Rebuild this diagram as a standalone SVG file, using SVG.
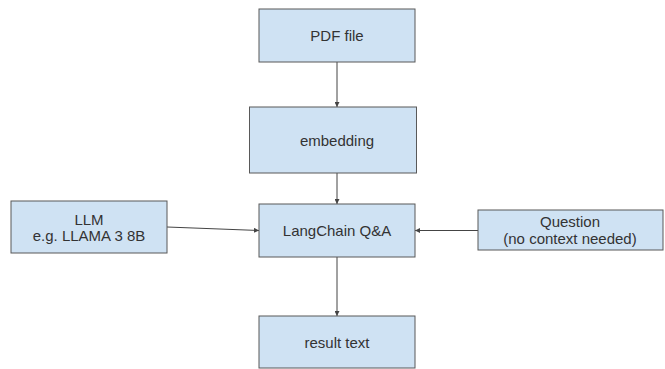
<svg xmlns="http://www.w3.org/2000/svg" width="665" height="369" viewBox="0 0 665 369">
<style>
.box{fill:#cfe2f3;stroke:#595959;stroke-width:1}
.t{font-family:"Liberation Sans",Arial,sans-serif;font-size:15px;fill:#333;text-anchor:middle}
.c{stroke:#444;stroke-width:1;fill:none;marker-end:url(#a)}
</style>
<defs>
<marker id="a" viewBox="0 0 6 6" refX="6" refY="3" markerWidth="5" markerHeight="5" orient="auto" markerUnits="userSpaceOnUse">
<path d="M0,0 L6,3 L0,6 z" fill="#444"/>
</marker>
</defs>
<rect width="665" height="369" fill="#fff"/>
<g id="connectors">
<line class="c" x1="337" y1="62" x2="337" y2="107"/>
<line class="c" x1="337" y1="173" x2="337" y2="204"/>
<line class="c" x1="167" y1="227" x2="259" y2="230.5"/>
<line class="c" x1="478" y1="230.5" x2="415" y2="230.5"/>
<line class="c" x1="337" y1="257" x2="337" y2="316"/>
</g>
<g id="pdf">
<rect class="box" x="259" y="9" width="156" height="53"/>
<text class="t" x="337" y="41">PDF file</text>
</g>
<g id="embedding">
<rect class="box" x="249.5" y="107" width="167" height="66"/>
<text class="t" x="337" y="146">embedding</text>
</g>
<g id="langchain">
<rect class="box" x="259" y="204" width="156" height="53"/>
<text class="t" x="337" y="236">LangChain Q&amp;A</text>
</g>
<g id="llm">
<rect class="box" x="11" y="201" width="156" height="52"/>
<text class="t" x="89" y="225">LLM</text>
<text class="t" x="89" y="241">e.g. LLAMA 3 8B</text>
</g>
<g id="question">
<rect class="box" x="478" y="210" width="185" height="40"/>
<text class="t" x="570" y="227">Question</text>
<text class="t" x="570" y="244">(no context needed)</text>
</g>
<g id="result">
<rect class="box" x="259" y="316" width="156" height="52"/>
<text class="t" x="337" y="348">result text</text>
</g>
</svg>
